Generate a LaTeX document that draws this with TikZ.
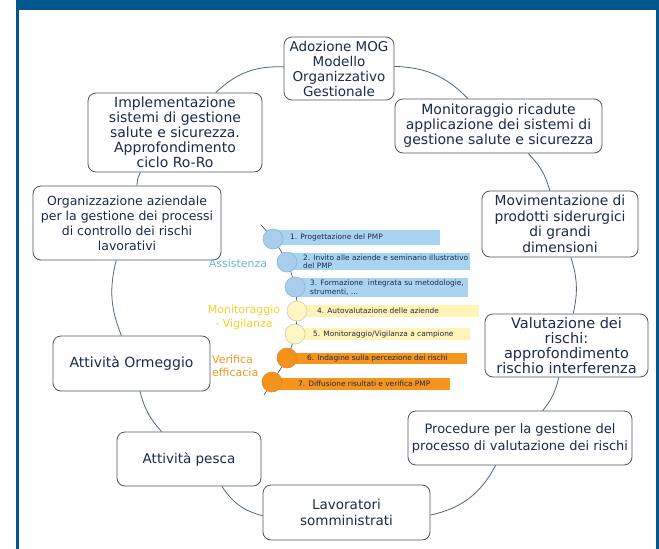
\documentclass[tikz,border=0pt]{standalone}
\usepackage{fontspec}
\setmainfont{DejaVu Sans}
\usetikzlibrary{backgrounds}
\definecolor{framec}{HTML}{00578C}
\definecolor{navy}{HTML}{1C2B4A}
\definecolor{edgec}{HTML}{4E5562}
\definecolor{linkc}{HTML}{4F6580}
\definecolor{chainc}{HTML}{2E4F7E}
\definecolor{bluebar}{HTML}{A8D4F2}
\definecolor{bluedot}{HTML}{A9CDEC}
\definecolor{bluedotline}{HTML}{8DB6DA}
\definecolor{yelbar}{HTML}{FFF4B5}
\definecolor{yeldot}{HTML}{FFF6C4}
\definecolor{yeldotline}{HTML}{C9CFB0}
\definecolor{orbar}{HTML}{F7941D}
\definecolor{ordot}{HTML}{F5921E}
\definecolor{ordotline}{HTML}{E08A2A}
\definecolor{assistc}{HTML}{6CB4E4}
\definecolor{monc}{HTML}{F5D327}
\definecolor{verc}{HTML}{F39A1E}
\begin{document}
\begin{tikzpicture}[x=1pt,y=-1pt,
  box/.style={draw=edgec, line width=0.8pt, rounded corners=8pt, fill=white, align=center, text=navy, inner sep=1pt},
  link/.style={draw=linkc, line width=0.8pt},
  dot/.style={circle, minimum size=20pt, inner sep=0pt, line width=0.6pt},
  bar/.style={rectangle, inner sep=0pt, anchor=west},
  bartext/.style={anchor=west, inner sep=0pt, align=left, text=navy, font=\fontsize{7.4}{8.4}\selectfont},
  phase/.style={font=\fontsize{11}{13.5}\selectfont, inner sep=0pt}
]
\useasboundingbox (0,0) rectangle (659,549);

% outer boxes
\node[box, minimum width=110pt, minimum height=63pt, font=\fontsize{13.5}{15}\selectfont] (mog) at (339,68.5) {Adozione MOG\\Modello\\Organizzativo\\Gestionale};
\node[box, minimum width=174pt, minimum height=79pt, font=\fontsize{14}{15}\selectfont] (impl) at (175,132.5) {Implementazione\\sistemi di gestione\\salute e sicurezza.\\Approfondimento\\ciclo Ro-Ro};
\node[box, minimum width=188pt, minimum height=74pt, font=\fontsize{12.5}{15}\selectfont] (organ) at (127,223) {Organizzazione aziendale\\per la gestione dei processi\\di controllo dei rischi\\lavorativi};
\node[box, minimum width=207pt, minimum height=54pt, font=\fontsize{14}{15}\selectfont] (monit) at (498.5,126) {Monitoraggio ricadute\\applicazione dei sistemi di\\gestione salute e sicurezza};
\node[box, minimum width=156pt, minimum height=66pt, font=\fontsize{13.8}{15.5}\selectfont] (movim) at (560,224) {Movimentazione di\\prodotti siderurgici\\di grandi\\dimensioni};
\node[box, minimum width=163pt, minimum height=63pt, font=\fontsize{14.5}{15}\selectfont] (valut) at (566.5,345.5) {Valutazione dei\\rischi:\\approfondimento\\rischio interferenza};
\node[box, minimum width=224pt, minimum height=54pt, font=\fontsize{13}{17}\selectfont] (proced) at (520,438) {Procedure per la gestione del\\processo di valutazione dei rischi};
\node[box, minimum width=167pt, minimum height=55pt, font=\fontsize{13.5}{16}\selectfont] (lavor) at (346.5,512.5) {Lavoratori\\somministrati};
\node[box, minimum width=144pt, minimum height=54pt, font=\fontsize{13.5}{15}\selectfont] (pesca) at (189,459) {Attività pesca};
\node[box, minimum width=157pt, minimum height=55pt, font=\fontsize{14}{15}\selectfont] (ormeg) at (131.5,363.5) {Attività Ormeggio};

% bars
\node[bar, fill=bluebar, minimum width=167pt, minimum height=15pt] (b1) at (273,237.5) {};
\node[bar, fill=bluebar, minimum width=183pt, minimum height=17pt] (b2) at (287,261.5) {};
\node[bar, fill=bluebar, minimum width=173pt, minimum height=19pt] (b3) at (295,287.5) {};
\node[bar, fill=yelbar, minimum width=182pt, minimum height=12pt] (b4) at (297,311) {};
\node[bar, fill=yelbar, minimum width=175pt, minimum height=12pt] (b5) at (295,334) {};
\node[bar, fill=orbar, minimum width=180pt, minimum height=11pt] (b6) at (287,358.5) {};
\node[bar, fill=orbar, minimum width=178pt, minimum height=12pt] (b7) at (272,384) {};

% circles
\node[dot, fill=bluedot, draw=bluedotline] (c1) at (273,239) {};
\node[dot, fill=bluedot, draw=bluedotline] (c2) at (287,262) {};
\node[dot, fill=bluedot, draw=bluedotline] (c3) at (295,287) {};
\node[dot, fill=yeldot, draw=yeldotline] (c4) at (297,311) {};
\node[dot, fill=yeldot, draw=yeldotline] (c5) at (295,334) {};
\node[dot, fill=ordot, draw=ordotline] (c6) at (287,358) {};
\node[dot, fill=ordot, draw=ordotline] (c7) at (272,382) {};

% bar texts
\node[bartext] (t1) at (290,237.5) {1. Progettazione del PMP};
\node[bartext] (t2) at (303,261.5) {2. Invito alle aziende e seminario illustrativo\\del PMP};
\node[bartext] (t3) at (310,287.5) {3. Formazione\ \ integrata su metodologie,\\strumenti, …};
\node[bartext] (t4) at (317,311) {4. Autovalutazione delle aziende};
\node[bartext] (t5) at (313,334) {5. Monitoraggio/Vigilanza a campione};
\node[bartext] (t6) at (307,358.5) {6. Indagine sulla percezione dei rischi};
\node[bartext] (t7) at (298,384) {7. Diffusione risultati e verifica PMP};

% phase labels
\node[phase, text=assistc] (lassist) at (238,263) {Assistenza};
\node[phase, text=monc, align=center] (lmon) at (244,317.5) {Monitoraggio\\- Vigilanza};
\node[phase, text=verc, align=left, anchor=west] (lver) at (212,366) {Verifica\\efficacia};

\coordinate (ctop) at (261,225);
\coordinate (cbot) at (264,395);

\begin{pgfonlayer}{background}
\fill[white] (0,0) rectangle (659,549);
\fill[framec] (16,0) rectangle (659,10);
\fill[framec] (16,0) rectangle (18.5,549);
\fill[framec] (655.5,0) rectangle (659,549);
\draw[chainc, line width=0.6pt] plot[smooth, tension=0.55] coordinates {(ctop) (c1.center) (c2.center) (c3.center) (c4.center) (c5.center) (c6.center) (c7.center) (cbot)};
\draw[link] (mog) to[bend left=22] (monit);
\draw[link] (monit) to[bend left=15] (movim);
\draw[link] (movim) to[bend left=15] (valut);
\draw[link] (valut) to[bend left=13] (proced);
\draw[link] (proced) to[bend left=25] (lavor);
\draw[link] (lavor) to[bend left=21] (pesca);
\draw[link] (pesca) to[bend left=14] (ormeg);
\draw[link] (ormeg) to[bend left=18] (organ);
\draw[link] (organ) to[bend left=13] (impl);
\draw[link] (impl) to[bend left=23] (mog);
\end{pgfonlayer}
\end{tikzpicture}
\end{document}
